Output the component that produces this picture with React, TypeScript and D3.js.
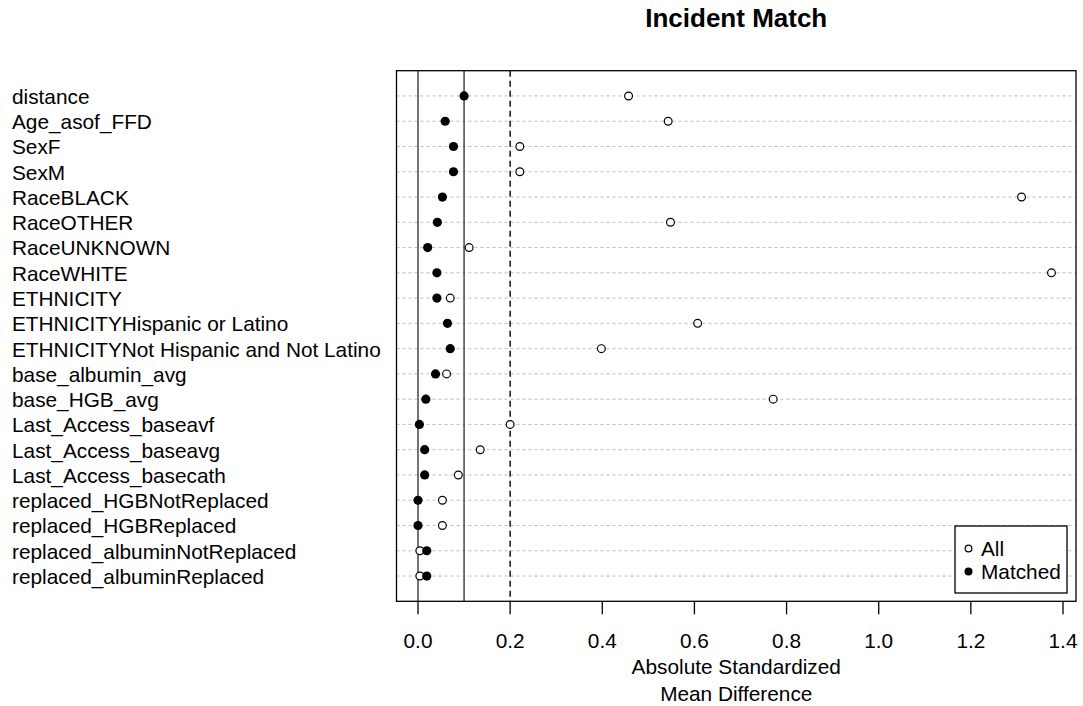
import React from "react";
import * as d3 from "d3";

const variables = [
  "distance",
  "Age_asof_FFD",
  "SexF",
  "SexM",
  "RaceBLACK",
  "RaceOTHER",
  "RaceUNKNOWN",
  "RaceWHITE",
  "ETHNICITY",
  "ETHNICITYHispanic or Latino",
  "ETHNICITYNot Hispanic and Not Latino",
  "base_albumin_avg",
  "base_HGB_avg",
  "Last_Access_baseavf",
  "Last_Access_baseavg",
  "Last_Access_basecath",
  "replaced_HGBNotReplaced",
  "replaced_HGBReplaced",
  "replaced_albuminNotReplaced",
  "replaced_albuminReplaced",
];

const allValues = [
  0.457, 0.543, 0.221, 0.221, 1.31, 0.548, 0.111, 1.375, 0.07, 0.607,
  0.398, 0.062, 0.771, 0.2, 0.135, 0.0875, 0.053, 0.053, 0.004, 0.004,
];

const matchedValues = [
  0.1, 0.059, 0.077, 0.077, 0.053, 0.042, 0.021, 0.041, 0.041, 0.064,
  0.07, 0.038, 0.017, 0.003, 0.0145, 0.0145, 0.0, 0.0, 0.019, 0.019,
];

const xTicks = [0, 0.2, 0.4, 0.6, 0.8, 1.0, 1.2, 1.4];
const refLines = [
  { v: 0, dash: "none" },
  { v: 0.1, dash: "none" },
  { v: 0.2, dash: "6,4" },
];
const legendItems = [
  { label: "All", filled: false },
  { label: "Matched", filled: true },
];

const W = 1083;
const H = 706;
const box = { left: 396.5, right: 1076, top: 70.7, bottom: 601.3 };
const FONT = "'Liberation Sans', Arial, sans-serif";

export default function App() {
  const x = d3.scaleLinear().domain([0, 1.4]).range([418, 1063]);
  const y = d3
    .scaleLinear()
    .domain([0, variables.length + 1])
    .range([box.top, box.bottom]);

  return (
    <svg
      width={W}
      height={H}
      style={{ position: "absolute", left: 0, top: 0, background: "#fff" }}
      fontFamily={FONT}
    >
      <rect x={0} y={0} width={W} height={H} fill="#fff" />
      <text
        x={(box.left + box.right) / 2}
        y={27}
        textAnchor="middle"
        fontSize={26}
        fontWeight="bold"
        fill="#000"
      >
        Incident Match
      </text>

      {variables.map((v, i) => (
        <line
          key={"g" + i}
          x1={box.left}
          x2={box.right}
          y1={y(i + 1)}
          y2={y(i + 1)}
          stroke="#bdbdbd"
          strokeWidth={1}
          strokeDasharray="3,3"
        />
      ))}

      {refLines.map((r) => (
        <line
          key={"r" + r.v}
          x1={x(r.v)}
          x2={x(r.v)}
          y1={box.top}
          y2={box.bottom}
          stroke={r.dash === "none" ? "#3a3a3a" : "#000"}
          strokeWidth={1.4}
          strokeDasharray={r.dash}
        />
      ))}

      {variables.map((v, i) => (
        <text
          key={"l" + i}
          x={12}
          y={y(i + 1)}
          dy="0.38em"
          fontSize={20.8}
          fill="#000"
        >
          {v}
        </text>
      ))}

      {allValues.map((v, i) => (
        <circle
          key={"a" + i}
          cx={x(v)}
          cy={y(i + 1)}
          r={3.9}
          fill="#fff"
          stroke="#000"
          strokeWidth={1.2}
        />
      ))}

      {matchedValues.map((v, i) => (
        <circle key={"m" + i} cx={x(v)} cy={y(i + 1)} r={4.6} fill="#000" />
      ))}

      <rect
        x={box.left}
        y={box.top}
        width={box.right - box.left}
        height={box.bottom - box.top}
        fill="none"
        stroke="#000"
        strokeWidth={1.3}
      />

      {xTicks.map((t) => (
        <g key={"t" + t}>
          <line
            x1={x(t)}
            x2={x(t)}
            y1={box.bottom}
            y2={box.bottom + 13}
            stroke="#000"
            strokeWidth={1.3}
          />
          <text
            x={x(t)}
            y={648}
            textAnchor="middle"
            fontSize={20.8}
            fill="#000"
          >
            {d3.format(".1f")(t)}
          </text>
        </g>
      ))}
      <text
        x={(box.left + box.right) / 2}
        y={674}
        textAnchor="middle"
        fontSize={20.8}
        fill="#000"
      >
        Absolute Standardized
      </text>
      <text
        x={(box.left + box.right) / 2}
        y={701}
        textAnchor="middle"
        fontSize={20.8}
        fill="#000"
      >
        Mean Difference
      </text>

      <rect
        x={955}
        y={526}
        width={112}
        height={67}
        fill="#fff"
        stroke="#000"
        strokeWidth={1.3}
      />
      {legendItems.map((it, i) => (
        <g key={"lg" + i}>
          {it.filled ? (
            <circle cx={968.5} cy={548.5 + i * 23} r={4} fill="#000" />
          ) : (
            <circle
              cx={968.5}
              cy={548.5 + i * 23}
              r={3.3}
              fill="#fff"
              stroke="#000"
              strokeWidth={1.2}
            />
          )}
          <text
            x={981}
            y={548.5 + i * 23}
            dy="0.38em"
            fontSize={20.8}
            fill="#000"
          >
            {it.label}
          </text>
        </g>
      ))}
    </svg>
  );
}
